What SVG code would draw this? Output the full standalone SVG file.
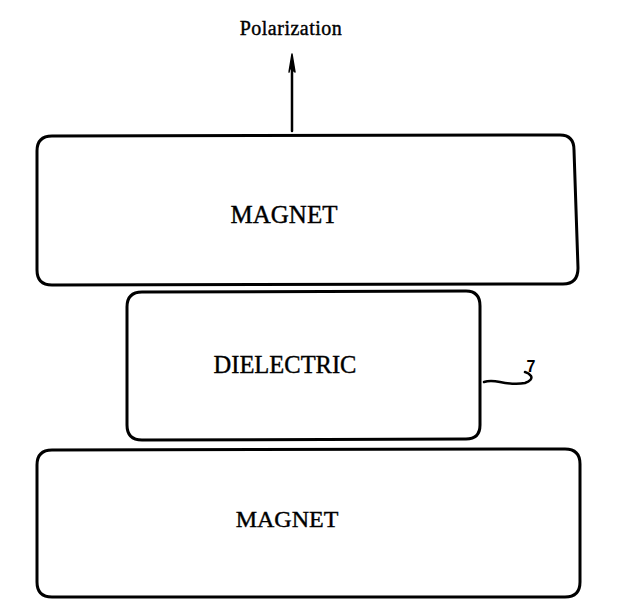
<svg xmlns="http://www.w3.org/2000/svg" width="617" height="609" viewBox="0 0 617 609">
<style>
.box{fill:none;stroke:#000;stroke-width:3;stroke-linejoin:round}
.lbl{font-family:"Liberation Serif","Times New Roman",serif;fill:#000;stroke:#000;stroke-width:0.4;text-anchor:middle}
.ln{fill:none;stroke:#000;stroke-width:2.5;stroke-linecap:round;stroke-linejoin:round}
</style>
<rect width="617" height="609" fill="#fff"/>
<g id="polarization">
<text class="lbl" x="291" y="35" font-size="20" letter-spacing="0.5">Polarization</text>
</g>
<g id="connectors">
<line class="ln" x1="292" y1="131" x2="292" y2="62"/>
<path d="M292,54 L295,72 L290,68 L289,72 Z" fill="#000" stroke="#000" stroke-width="1.5" stroke-linejoin="round"/>
<path class="ln" d="M484,382 Q490,380 500,382 Q515,385 525,383 Q533,380 531,376 Q529,373 525,372"/>
</g>
<g id="ref-7">
<text x="531" y="372" font-family="Liberation Sans, Arial, sans-serif" font-size="16" font-weight="bold" text-anchor="middle" fill="#000">7</text>
</g>
<g id="magnet-top">
<path class="box" d="M52,136 L560,135 Q574,135 574,150 L578,268 Q578,284 563,284 L52,285 Q37,285 37,270 L37,151 Q37,136 52,136 Z"/>
<text class="lbl" x="284" y="223" font-size="25">MAGNET</text>
</g>
<g id="dielectric">
<path class="box" d="M142,292 L466,291 Q480,291 480,306 L480,425 Q480,439 466,439 L142,440 Q127,440 127,425 L127,307 Q127,292 142,292 Z"/>
<text class="lbl" x="285" y="373" font-size="24.5">DIELECTRIC</text>
</g>
<g id="magnet-bottom">
<path class="box" d="M52,450 L565,449 Q580,449 580,464 L580,582 Q580,597 565,597 L52,597 Q37,597 37,582 L37,465 Q37,450 52,450 Z"/>
<text class="lbl" x="287" y="527" font-size="24">MAGNET</text>
</g>
</svg>
